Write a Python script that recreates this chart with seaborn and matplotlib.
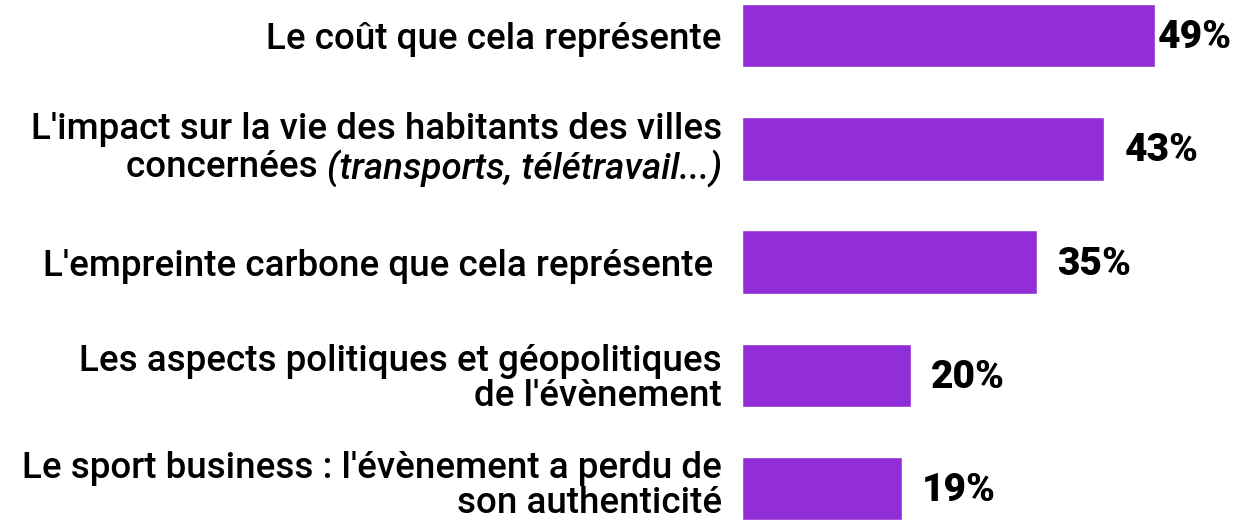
import numpy as np
import matplotlib.pyplot as plt
import matplotlib.transforms as mtrans
import pandas as pd
import seaborn as sb

labels = [
    "Le coût que cela représente",
    "L'impact sur la vie des habitants des villes\nconcernées",
    "L'empreinte carbone que cela représente ",
    "Les aspects politiques et géopolitiques\nde l'évènement",
    "Le sport business : l'évènement a perdu de\nson authenticité",
]
italic_part = ["", "(transports, télétravail...)", "", "", ""]
values = [49, 43, 35, 20, 19]
value_text = ["49%", "43%", "35%", "20%", "19%"]

sb.set_style("white")
plt.rcParams['font.family'] = ['Roboto', 'DejaVu Sans']
plt.rcParams['text.color'] = 'black'

df = pd.DataFrame({"label": labels, "value": values})

fig = plt.figure(figsize=(12.35, 5.25), dpi=100)
ax = fig.add_axes([742 / 1235, 0, (1235 - 742) / 1235, 1])

sb.barplot(data=df, x="value", y="label", orient="h", color="#922ED8",
           saturation=1, width=0.56, ax=ax)

ax.set_xlim(0, 58.5)
ax.set_ylim(4.32, -0.313)
for s in ax.spines.values():
    s.set_visible(False)
ax.set_xticks([])
ax.set_xlabel("")
ax.set_ylabel("")

FS = 26.5
LS = 1.0

# tick labels, the second one is drawn by hand (mixed italic)
ax.set_yticks(range(len(labels)))
ax.set_yticklabels([l if italic_part[i] == "" else "" for i, l in enumerate(labels)],
                   fontsize=FS, fontweight="medium", color="black", linespacing=LS)
ax.tick_params(axis="y", length=0, pad=14.4)

# keep the last label inside the figure
last = ax.get_yticklabels()[-1]
last.set_transform(last.get_transform() + mtrans.ScaledTranslation(0, 5 / 72, fig.dpi_scale_trans))

ytr = ax.get_yaxis_transform()
fig.canvas.draw()
r = fig.canvas.get_renderer()
for i, l in enumerate(labels):
    if italic_part[i] == "":
        continue
    first, second = l.split("\n")
    ax.annotate(first, xy=(0, i), xycoords=ytr, xytext=(-20, 19),
                textcoords="offset pixels", ha="right", va="center",
                fontsize=FS, fontweight="medium", color="black")
    it = ax.annotate(italic_part[i], xy=(0, i), xycoords=ytr, xytext=(-20, -19),
                     textcoords="offset pixels", ha="right", va="center",
                     fontsize=FS, fontweight="medium", style="italic", color="black")
    w = it.get_window_extent(r).width
    ax.annotate(second + " ", xy=(0, i), xycoords=ytr, xytext=(-20 - w, -19),
                textcoords="offset pixels", ha="right", va="center",
                fontsize=FS, fontweight="medium", color="black")

# value labels
pads = [3, 20, 20, 20, 20]
for i, (v, t) in enumerate(zip(values, value_text)):
    ax.annotate(t, xy=(v, i), xytext=(pads[i], -2), textcoords="offset pixels",
                ha="left", va="center", fontsize=28, fontweight="heavy", color="black")

fig.savefig("out.png", dpi=100)
